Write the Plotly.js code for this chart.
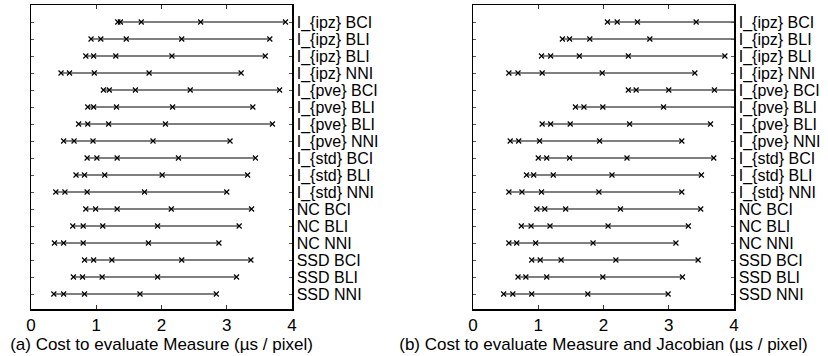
<!DOCTYPE html>
<html><head><meta charset="utf-8">
<script src="https://cdn.plot.ly/plotly-3.0.1.min.js"></script>
<style>html,body{margin:0;padding:0;background:#fff}#chart{width:828px;height:356px}</style>
</head><body><div id="chart"></div><script>
const rowLabels = [
  "I_{ipz} BCI","I_{ipz} BLI","I_{ipz} BLI","I_{ipz} NNI",
  "I_{pve} BCI","I_{pve} BLI","I_{pve} BLI","I_{pve} NNI",
  "I_{std} BCI","I_{std} BLI","I_{std} NNI",
  "NC BCI","NC BLI","NC NNI",
  "SSD BCI","SSD BLI","SSD NNI"
];
// (a) Cost to evaluate Measure (µs / pixel), five measurements per row
const measureCost = [
  [1.33,1.37,1.69,2.60,3.90],
  [0.92,1.07,1.46,2.31,3.66],
  [0.84,0.96,1.30,2.16,3.59],
  [0.46,0.59,0.97,1.81,3.22],
  [1.11,1.20,1.60,2.44,3.81],
  [0.87,0.96,1.31,2.17,3.40],
  [0.73,0.87,1.19,2.06,3.70],
  [0.50,0.66,0.95,1.87,3.05],
  [0.86,1.01,1.32,2.26,3.44],
  [0.69,0.82,1.13,2.01,3.32],
  [0.38,0.52,0.86,1.74,3.00],
  [0.84,0.99,1.32,2.15,3.38],
  [0.64,0.80,1.10,1.94,3.19],
  [0.36,0.50,0.80,1.80,2.88],
  [0.82,0.96,1.24,2.31,3.37],
  [0.65,0.79,1.09,1.94,3.15],
  [0.35,0.50,0.82,1.67,2.84]
];
// (b) Cost to evaluate Measure and Jacobian (µs / pixel)
const measureJacobianCost = [
  [2.06,2.21,2.52,3.42,4.60],
  [1.37,1.48,1.79,2.71,4.10],
  [1.05,1.19,1.63,2.38,3.86],
  [0.55,0.69,1.06,1.98,3.40],
  [2.38,2.50,3.00,3.70,4.90],
  [1.57,1.70,1.99,2.92,4.30],
  [1.06,1.19,1.49,2.40,3.64],
  [0.57,0.70,1.02,1.94,3.20],
  [1.00,1.13,1.48,2.36,3.69],
  [0.82,0.93,1.23,2.13,3.50],
  [0.55,0.75,1.05,1.93,3.20],
  [0.98,1.10,1.42,2.26,3.49],
  [0.74,0.89,1.18,2.07,3.30],
  [0.55,0.67,0.96,1.84,3.11],
  [0.90,1.03,1.35,2.19,3.45],
  [0.69,0.81,1.13,1.99,3.21],
  [0.47,0.61,0.90,1.76,2.99]
];
const xTicks = [0,1,2,3,4];
const titleA = "(a) Cost to evaluate Measure (µs / pixel)";
const titleB = "(b) Cost to evaluate Measure and Jacobian (µs / pixel)";

const FONT = "Liberation Sans, Arial, Helvetica, sans-serif";
const FS = 17;
const FSY = 16;
const traces = [];
function addPanel(data, xa, ya) {
  data.forEach((vals, i) => {
    traces.push({
      type: "scatter", mode: "lines+markers",
      x: vals, y: vals.map(() => i),
      xaxis: xa, yaxis: ya,
      line: {color: "#555", width: 1.5},
      marker: {symbol: "x-thin", size: 5, color: "#000", line: {color: "#000", width: 1.2}},
      cliponaxis: true, hoverinfo: "skip", showlegend: false
    });
  });
}
addPanel(measureCost, "x", "y");
addPanel(measureJacobianCost, "x2", "y2");

const idx = rowLabels.map((_, i) => i);
function xAxis(domain, anchor, title) {
  return {
    domain, anchor, range: [0, 4], tickvals: xTicks, ticktext: xTicks.map(String),
    ticks: "inside", ticklen: 4, tickcolor: "#333", mirror: "ticks",
    showline: true, linecolor: "#000", linewidth: 1.5,
    showgrid: false, zeroline: false, automargin: false,
    tickfont: {size: FS, color: "#000", family: FONT},
    title: {text: title, font: {size: FS, color: "#000", family: FONT}, standoff: 0}
  };
}
function yAxis(anchor) {
  return {
    anchor, domain: [0, 1], range: [16.88, -1], side: "right",
    tickvals: idx, ticktext: rowLabels,
    ticks: "inside", ticklen: 3, tickcolor: "#555", mirror: "ticks",
    showline: true, linecolor: "#000", linewidth: 1.5,
    showgrid: false, zeroline: false, automargin: false,
    tickfont: {size: FSY, color: "#000", family: FONT}
  };
}
const layout = {
  width: 828, height: 356,
  margin: {l: 0, r: 0, t: 5, b: 47},
  paper_bgcolor: "#fff", plot_bgcolor: "#fff",
  font: {family: FONT, color: "#000"},
  showlegend: false,
  xaxis: xAxis([31/828, 292/828], "y", titleA),
  yaxis: yAxis("x"),
  xaxis2: xAxis([473/828, 734/828], "y2", titleB),
  yaxis2: yAxis("x2")
};
Plotly.newPlot("chart", traces, layout, {staticPlot: true, displayModeBar: false});
</script></body></html>
